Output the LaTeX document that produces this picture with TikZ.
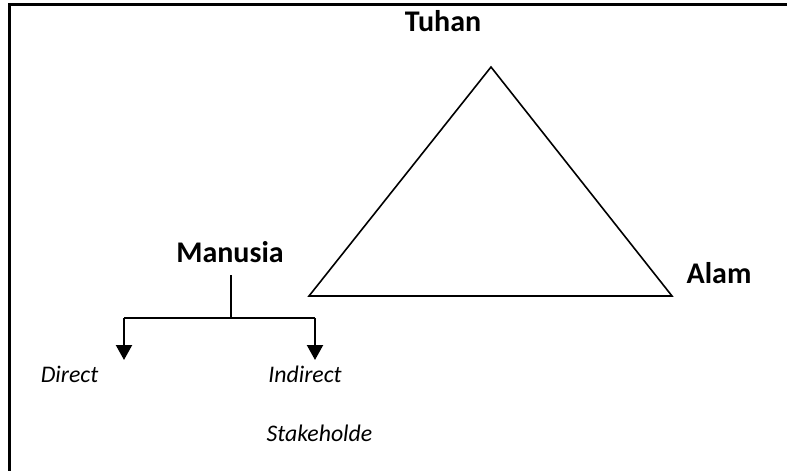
\documentclass[tikz,border=0pt]{standalone}
\usepackage{fontspec}
\setmainfont{Carlito}
\usetikzlibrary{arrows.meta}
\begin{document}
\begin{tikzpicture}[x=1pt,y=-1pt,
  lbl/.style={inner sep=0pt,anchor=base,font=\fontsize{30}{33}\selectfont\bfseries},
  ital/.style={inner sep=0pt,anchor=base,font=\fontsize{23.8}{27}\selectfont\itshape},
  tri/.style={line width=1.6pt,line join=miter},
  conn/.style={line width=2pt},
  arr/.style={line width=2.2pt,-{Triangle[length=15pt,width=16pt]}}]
\useasboundingbox (0,0) rectangle (787,471);
\draw[line width=2.4pt] (787,4.5) -- (9.5,4.5) -- (9.5,471);
\coordinate (apex) at (491,67);
\coordinate (bl) at (309,296);
\coordinate (br) at (672,296);
\draw[tri] (apex) -- (bl) -- (br) -- cycle;
\node[lbl] (tuhan) at (443,31) {Tuhan};
\node[lbl] (alam) at (719,283) {Alam};
\node[lbl] (manusia) at (230,262) {Manusia};
\coordinate (top) at (230.5,275);
\coordinate (jn) at (230.5,318);
\coordinate (jl) at (124,318);
\coordinate (jr) at (315,318);
\coordinate (tl) at (124,360);
\coordinate (tr) at (315,360);
\draw[conn] (top) -- (jn);
\draw[conn] (jl) -- (jr);
\draw[arr] (jl) -- (tl);
\draw[arr] (jr) -- (tr);
\node[ital] (direct) at (69.5,382) {Direct};
\node[ital] (indirect) at (305,382) {Indirect};
\node[ital] (stake) at (319.5,441) {Stakeholde};
\end{tikzpicture}
\end{document}
